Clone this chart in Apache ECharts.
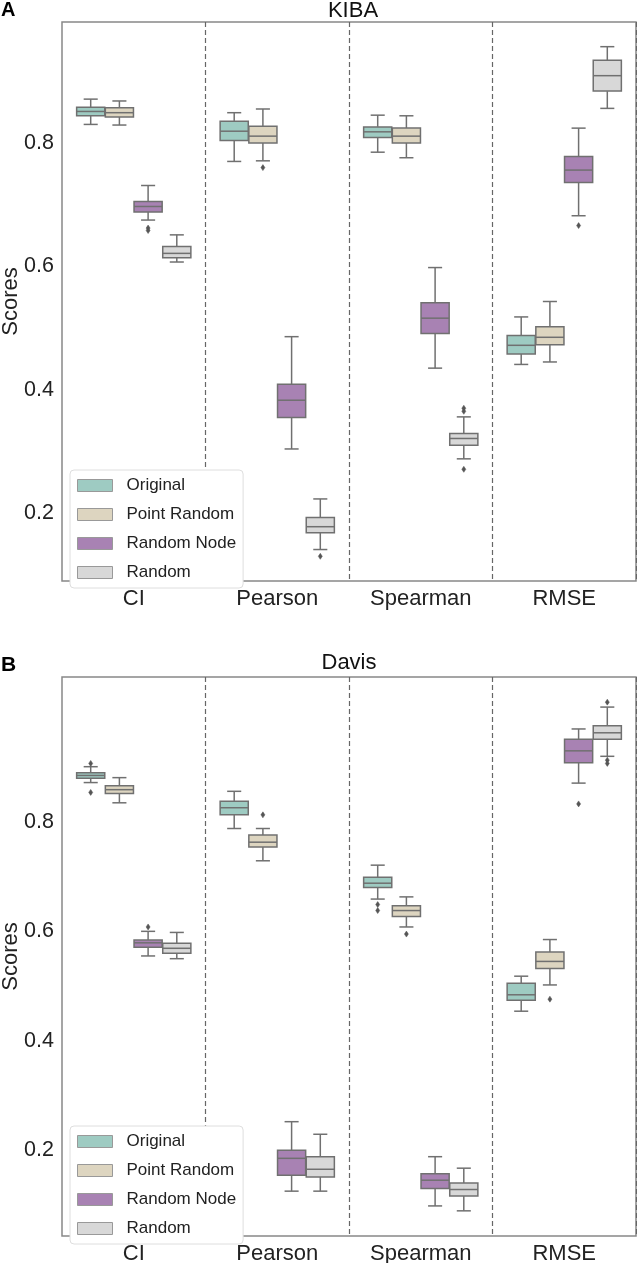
<!DOCTYPE html>
<html>
<head>
<meta charset="utf-8">
<script src="https://cdn.jsdelivr.net/npm/echarts@6/dist/echarts.min.js"></script>
<style>
html,body{margin:0;padding:0;background:#fff;}
#chart{width:637px;height:1263px;}
</style>
</head>
<body>
<div id="chart"></div>
<script>
// ---- data ----
const categories = ['CI', 'Pearson', 'Spearman', 'RMSE'];
const hues = ['Original', 'Point Random', 'Random Node', 'Random'];
const yTicks = [0.2, 0.4, 0.6, 0.8];

// each entry: [lower whisker, Q1, median, Q3, upper whisker] per category
const kibaOriginal    = [[0.830,0.844,0.851,0.858,0.871],[0.770,0.804,0.819,0.835,0.849],[0.785,0.809,0.818,0.826,0.845],[0.441,0.458,0.472,0.488,0.518]];
const kibaPointRandom = [[0.829,0.842,0.849,0.857,0.868],[0.771,0.800,0.811,0.827,0.855],[0.776,0.800,0.811,0.824,0.844],[0.445,0.473,0.485,0.502,0.543]];
const kibaRandomNode  = [[0.675,0.688,0.697,0.705,0.731],[0.304,0.355,0.383,0.409,0.486],[0.435,0.491,0.516,0.541,0.598],[0.682,0.736,0.756,0.778,0.824]];
const kibaRandom      = [[0.607,0.614,0.621,0.632,0.651],[0.141,0.168,0.178,0.193,0.223],[0.288,0.310,0.321,0.329,0.356],[0.856,0.884,0.909,0.934,0.956]];
// outliers: [category index, value]
const kibaOutOriginal    = [];
const kibaOutPointRandom = [[1,0.760]];
const kibaOutRandomNode  = [[0,0.662],[0,0.658],[3,0.666]];
const kibaOutRandom      = [[1,0.130],[2,0.370],[2,0.365],[2,0.271]];

const davisOriginal    = [[0.872,0.880,0.885,0.890,0.901],[0.788,0.813,0.826,0.838,0.856],[0.659,0.680,0.688,0.699,0.721],[0.454,0.474,0.484,0.505,0.518]];
const davisPointRandom = [[0.835,0.852,0.859,0.866,0.881],[0.729,0.754,0.763,0.776,0.788],[0.608,0.627,0.638,0.647,0.663],[0.502,0.532,0.545,0.562,0.585]];
const davisRandomNode  = [[0.555,0.571,0.579,0.584,0.600],[0.125,0.154,0.185,0.200,0.252],[0.098,0.130,0.145,0.157,0.188],[0.871,0.908,0.930,0.951,0.970]];
const davisRandom      = [[0.550,0.560,0.569,0.578,0.598],[0.125,0.151,0.165,0.188,0.229],[0.089,0.116,0.128,0.140,0.167],[0.920,0.951,0.963,0.976,1.010]];
const davisOutOriginal    = [[0,0.907],[0,0.854],[2,0.649],[2,0.638]];
const davisOutPointRandom = [[1,0.813],[2,0.595],[3,0.476]];
const davisOutRandomNode  = [[0,0.608],[3,0.833]];
const davisOutRandom      = [[3,1.019],[3,0.913],[3,0.907]];

// ---- styling ----
const colors = ['#9ecbc2', '#ddd5c0', '#a882b3', '#d8d8d8'];
const lineColor = '#707070';
const FONT = 'Liberation Sans, Arial, sans-serif';

function boxRenderer(hueIdx) {
  return function (params, api) {
    const cat = api.value(0);
    const band = api.size([1, 0])[0];
    const slot = band * 0.8 / 4;
    const cx = api.coord([cat, 0])[0] - band * 0.4 + slot * (hueIdx + 0.5);
    const y = i => api.coord([cat, api.value(i)])[1];
    const w = slot * 0.98, hw = w / 2, cap = w / 4;
    const yLo = y(1), yQ1 = y(2), yMed = y(3), yQ3 = y(4), yHi = y(5);
    const ls = { stroke: lineColor, lineWidth: 1.5 };
    return {
      type: 'group',
      children: [
        { type: 'line', shape: { x1: cx, y1: yQ1, x2: cx, y2: yLo }, style: ls },
        { type: 'line', shape: { x1: cx, y1: yQ3, x2: cx, y2: yHi }, style: ls },
        { type: 'line', shape: { x1: cx - cap, y1: yLo, x2: cx + cap, y2: yLo }, style: ls },
        { type: 'line', shape: { x1: cx - cap, y1: yHi, x2: cx + cap, y2: yHi }, style: ls },
        { type: 'rect', shape: { x: cx - hw, y: yQ3, width: w, height: yQ1 - yQ3 },
          style: { fill: colors[hueIdx], stroke: lineColor, lineWidth: 1.5 } },
        { type: 'line', shape: { x1: cx - hw, y1: yMed, x2: cx + hw, y2: yMed }, style: ls }
      ]
    };
  };
}
function outlierRenderer(hueIdx) {
  return function (params, api) {
    const cat = api.value(0);
    const band = api.size([1, 0])[0];
    const slot = band * 0.8 / 4;
    const cx = api.coord([cat, 0])[0] - band * 0.4 + slot * (hueIdx + 0.5);
    const cy = api.coord([cat, api.value(1)])[1];
    return {
      type: 'polygon',
      shape: { points: [[cx, cy - 3], [cx + 2, cy], [cx, cy + 3], [cx - 2, cy]] },
      style: { fill: '#555', stroke: '#555', lineWidth: 0.5 }
    };
  };
}

function boxData(arr) { return arr.map((v, i) => [i].concat(v)); }

function makeSeries(axisIdx, boxes, outs) {
  const s = [];
  boxes.forEach((b, h) => {
    s.push({
      type: 'custom', name: hues[h], xAxisIndex: axisIdx, yAxisIndex: axisIdx,
      itemStyle: { color: colors[h], borderColor: '#999', borderWidth: 1 },
      renderItem: boxRenderer(h), encode: { x: 0, y: [1, 2, 3, 4, 5] },
      data: boxData(b), z: 3
    });
  });
  outs.forEach((o, h) => {
    s.push({
      type: 'custom', name: 'out' + axisIdx + '_' + h, xAxisIndex: axisIdx, yAxisIndex: axisIdx,
      renderItem: outlierRenderer(h), encode: { x: 0, y: 1 }, data: o, z: 4
    });
  });
  return s;
}

function xAxisCfg(gi) {
  return {
    type: 'category', gridIndex: gi, data: categories,
    axisLine: { show: false }, axisTick: { show: false },
    axisLabel: { fontSize: 22, color: '#222', margin: 7, fontFamily: FONT },
    splitLine: { show: true, interval: (i) => i !== 0, lineStyle: { color: '#666', type: [5, 3], width: 1.2 } }
  };
}
function yAxisCfg(gi, min, max) {
  return {
    type: 'value', gridIndex: gi, min: min, max: max,
    name: 'Scores', nameLocation: 'middle', nameGap: 40, nameMoveOverlap: false,
    nameTextStyle: { fontSize: 22, color: '#222', fontFamily: FONT },
    axisLine: { show: false }, axisTick: { show: false }, splitLine: { show: false },
    showMinLabel: false, showMaxLabel: false,
    axisLabel: {
      fontSize: 21.5, color: '#222', margin: 8, fontFamily: FONT,
      formatter: v => (yTicks.some(t => Math.abs(t - v) < 1e-6) ? v.toFixed(1) : '')
    }
  };
}
function legendCfg(top) {
  return {
    orient: 'vertical', left: 70, top: top, itemWidth: 35, itemHeight: 12, itemGap: 12,
    padding: [7, 7, 7, 7], backgroundColor: '#fff', borderColor: '#dedede', borderWidth: 1, borderRadius: 4,
    icon: 'rect',
    textStyle: { fontSize: 17, color: '#222', fontFamily: FONT, padding: [0, 0, 0, 9] },
    data: hues.map((h, i) => ({ name: h, itemStyle: { color: colors[i], borderColor: '#999', borderWidth: 1 } })),
    z: 10
  };
}

const chart = echarts.init(document.getElementById('chart'), null, { renderer: 'canvas' });
chart.setOption({
  backgroundColor: '#fff',
  animation: false,
  title: [
    { text: 'A', left: 1, top: 0, padding: 0, textStyle: { fontSize: 20, fontWeight: 'bold', color: '#000', fontFamily: FONT } },
    { text: 'KIBA', left: 353, top: 0, padding: 0, textAlign: 'center', textStyle: { fontSize: 22, fontWeight: 'normal', color: '#111', fontFamily: FONT } },
    { text: 'B', left: 1, top: 655, padding: 0, textStyle: { fontSize: 21, fontWeight: 'bold', color: '#000', fontFamily: FONT } },
    { text: 'Davis', left: 349, top: 652, padding: 0, textAlign: 'center', textStyle: { fontSize: 22, fontWeight: 'normal', color: '#111', fontFamily: FONT } }
  ],
  grid: [
    { left: 62, right: 1, top: 22, height: 559, show: true, borderColor: '#888', borderWidth: 1.5, backgroundColor: 'transparent', containLabel: false, outerBoundsMode: 'none' },
    { left: 62, right: 1, top: 677, height: 559, show: true, borderColor: '#888', borderWidth: 1.5, backgroundColor: 'transparent', containLabel: false, outerBoundsMode: 'none' }
  ],
  xAxis: [xAxisCfg(0), xAxisCfg(1)],
  yAxis: [yAxisCfg(0, 0.09, 0.996), yAxisCfg(1, 0.043, 1.065)],
  legend: [legendCfg(470), legendCfg(1126)],
  series: makeSeries(0, [kibaOriginal, kibaPointRandom, kibaRandomNode, kibaRandom],
                        [kibaOutOriginal, kibaOutPointRandom, kibaOutRandomNode, kibaOutRandom])
    .concat(makeSeries(1, [davisOriginal, davisPointRandom, davisRandomNode, davisRandom],
                          [davisOutOriginal, davisOutPointRandom, davisOutRandomNode, davisOutRandom]))
});
</script>
</body>
</html>
